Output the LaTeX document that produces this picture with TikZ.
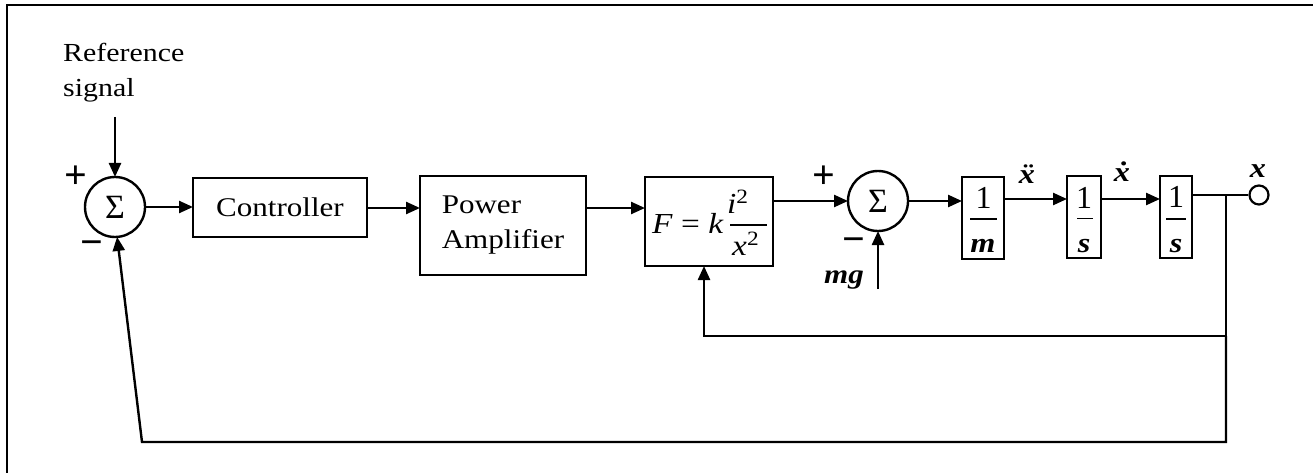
\documentclass[tikz,border=0pt]{standalone}
\usepackage{fontspec}
\setmainfont{Liberation Serif}
\usepackage{graphicx}
\usetikzlibrary{arrows.meta}
\newcommand\hs[1]{\scalebox{1.15}[1]{#1}}
\begin{document}
\begin{tikzpicture}[x=1pt,y=-1pt, line width=2.4pt,
  blk/.style={draw, line width=2.4pt, inner sep=0pt, outer sep=0pt},
  sumc/.style={draw, circle, minimum size=60pt, inner sep=0pt, outer sep=0pt, line width=2.4pt, font=\fontsize{34}{34}\selectfont},
  arr/.style={-{Triangle[length=14pt,width=12pt]}},
  lbl/.style={inner sep=0pt, font=\fontsize{27}{35}\selectfont},
  sg/.style={inner sep=0pt, font=\fontsize{40}{40}\selectfont\bfseries},
  var/.style={inner sep=0pt, anchor=base, font=\fontsize{28}{28}\selectfont\bfseries\itshape},
  num/.style={inner sep=0pt, anchor=base, font=\fontsize{32}{32}\selectfont},
  fbar/.style={line width=1.8pt}]
\useasboundingbox (0,0) rectangle (1313,473);
% frame
\draw[line width=2.6pt] (7,473) -- (7,5) -- (1313,5);

% reference text
\node[lbl, font=\fontsize{26}{35}\selectfont, align=left, anchor=north west] (reftext) at (62,42) {\hs{Reference}\\\hs{signal}};
\coordinate (ref) at (115,117);

% summing junctions
\node[sumc] (sum1) at (115,207) {Σ};
\node[sumc] (sum2) at (878,201) {Σ};
\node[sg] (p1) at (76,177) {+};
\node[sg] (m1) at (92,248) {−};
\node[sg] (p2) at (824,177) {+};
\node[sg] (m2) at (854,245) {−};

% blocks
\node[blk, minimum width=174pt, minimum height=59pt, lbl] (ctrl) at (280,207.5) {\hs{Controller}};
\node[blk, minimum width=166pt, minimum height=99pt, lbl, align=left] (pa) at (503,225.5) {\hs{Power}\\\hs{Amplifier}};
\node[blk, minimum width=128pt, minimum height=89pt] (F) at (709,221.5) {};
\node[blk, minimum width=42pt, minimum height=82pt] (bm) at (983,218) {};
\node[blk, minimum width=34pt, minimum height=82pt] (bs1) at (1084,217) {};
\node[blk, minimum width=32pt, minimum height=82pt] (bs2) at (1176,217) {};

% formula in F
\node[inner sep=0pt, anchor=base west, font=\fontsize{29}{29}\selectfont] (fk) at (651,233) {\hs{\textit{F} = \textit{k}}};
\node[inner sep=0pt, anchor=base west, font=\fontsize{29}{29}\selectfont] (fi) at (726,213) {\hs{\textit{i}\textsuperscript{2}}};
\node[inner sep=0pt, anchor=base west, font=\fontsize{29}{29}\selectfont] (fx) at (731,255) {\hs{\textit{x}\textsuperscript{2}}};
\draw[fbar] (730,225) -- (767,225);

% fractions
\node[num] (n1) at (983.5,208) {1};
\draw[fbar] (970,219) -- (997,219);
\node[var] (vm) at (983,252) {\hs{m}};
\node[num] (n2) at (1084,208) {1};
\draw[fbar] (1077,218.5) -- (1093,218.5);
\node[var] (vs1) at (1084,252) {\hs{s}};
\node[num] (n3) at (1176,207) {1};
\draw[fbar] (1166,219) -- (1186,219);
\node[var] (vs2) at (1176,252) {\hs{s}};

% signal labels
\node[var] (xdd) at (1027,183) {\hs{\"x}};
\node[var] (xd) at (1122,182) {\hs{\.x}};
\node[var] (xo) at (1258,178) {\hs{x}};
\node[var, font=\fontsize{27}{27}\selectfont\bfseries\itshape] (mg) at (844,283) {\hs{mg}};

% output terminal
\node[draw, circle, minimum size=19pt, inner sep=0pt, line width=2.2pt] (out) at (1259,195) {};
\coordinate (br) at (1226,195);
\coordinate (fbin) at (704,336);
\coordinate (fbout) at (142,442);
\coordinate (mgin) at (878,289);

% connectors
\draw[arr] (ref) -- (sum1.north);
\draw[arr] (sum1.east) -- (ctrl.west |- sum1.east);
\draw[arr] (ctrl.east |- 0,208) -- (pa.west |- 0,208);
\draw[arr] (pa.east |- 0,208) -- (F.west |- 0,208);
\draw[arr] (F.east |- sum2.west) -- (sum2.west);
\draw[arr] (sum2.east) -- (bm.west |- sum2.east);
\draw[arr] (bm.east |- 0,199) -- (bs1.west |- 0,199);
\draw[arr] (bs1.east |- 0,199) -- (bs2.west |- 0,199);
\draw (bs2.east |- br) -- (out.west);
\draw[arr] (mgin) -- (sum2.south);
\draw[arr] (br) -- (br |- fbin) -- (fbin) -- (fbin |- F.south);
\draw[arr] (br |- fbin) -- (br |- fbout) -- (fbout) -- (sum1.-86);
\end{tikzpicture}
\end{document}
